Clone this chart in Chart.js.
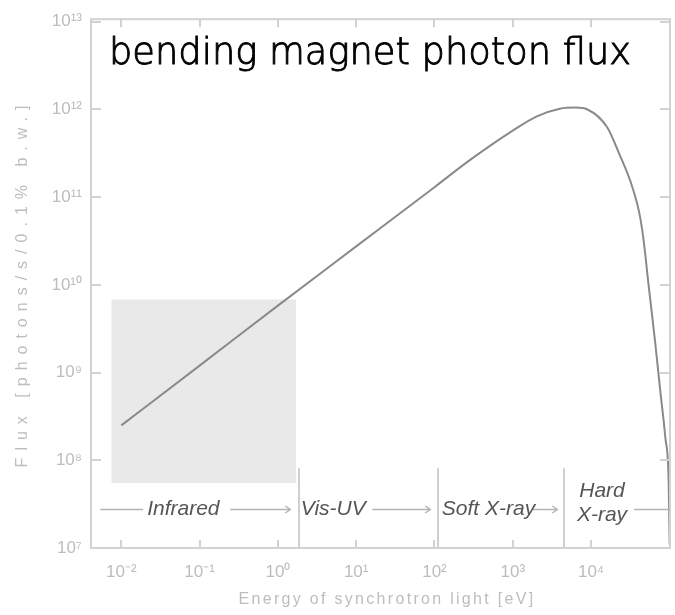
<!DOCTYPE html>
<html><head><meta charset="utf-8">
<script src="https://cdn.jsdelivr.net/npm/chart.js@4"></script>
<style>html,body{margin:0;padding:0;background:#fff}#wrap{width:675px;height:615px;position:relative}</style>
</head><body><div id="wrap"><canvas id="c" width="675" height="615" style="width:675px;height:615px"></canvas></div>
<script>
// ---- data ----
const energyEV = [0.01, 0.1, 1, 10, 100, 300, 1000, 2000, 4000, 6300, 9000, 16000, 23000, 32000, 39000, 42700, 47000, 54000, 66000, 76000, 89000, 98000, 101000];
const flux     = [2.5e8, 1.2e9, 5.8e9, 2.75e10, 1.3e11, 2.75e11, 5.75e11, 8.3e11, 1.02e12, 1.05e12, 1.0e12, 6.3e11, 3.1e11, 1.5e11, 8.3e10, 5.7e10, 3.2e10, 1.05e10, 2.2e9, 6.6e8, 1.8e8, 5.9e7, 1.1e7];
const xTickExponents = [-2, -1, 0, 1, 2, 3, 4];
const yTickExponents = [7, 8, 9, 10, 11, 12, 13];
const xRange = [4.1e-3, 1.02e5];
const yRange = [1e7, 1.07e13];
const boxEnergy = [7.45e-3, 1.72];
const boxFlux = [5.5e7, 6.8e9];
const separatorEnergy = [1.88, 112, 4570];
const separatorTopFlux = 8.1e7;
const regionLabels = ['Infrared', 'Vis-UV', 'Soft X-ray', 'Hard\nX-ray'];
const regionLabelEnergy = [0.062, 5.1, 490, 1.38e4];
const arrowFlux = 2.75e7;
const arrowStart = [5.4e-3, 0.246, 16.1, 1780, 3.55e4];
const arrowEnd   = [0.019, 1.44, 88.3, 3700, 1.02e5];
const arrowHead  = [false, true, true, true, false];
const chartTitle = 'bending magnet photon flux';
const xTitle = 'Energy of synchrotron light [eV]';
const yTitle = 'Flux [photons/s/0.1% b.w.]';

const SUP = {'-':'\u207B','0':'\u2070','1':'\u00B9','2':'\u00B2','3':'\u00B3','4':'\u2074','5':'\u2075','6':'\u2076','7':'\u2077','8':'\u2078','9':'\u2079'};
function powLabel(v){ const e = Math.round(Math.log10(v)); return '10' + String(e).split('').map(c=>SUP[c]).join(''); }

const TICK_GRAY = '#bdbdbd';
const FRAME_GRAY = '#d2d2d2';

const decor = {
  id: 'decor',
  afterDraw(chart){
    const {ctx, chartArea:a, scales:{x, y}} = chart;
    ctx.save();
    ctx.strokeStyle = FRAME_GRAY; ctx.lineWidth = 2;
    ctx.strokeRect(a.left, a.top, a.right - a.left, a.bottom - a.top);
    ctx.beginPath();
    xTickExponents.forEach(e => { const px = Math.round(x.getPixelForValue(Math.pow(10,e)));
      ctx.moveTo(px, a.bottom); ctx.lineTo(px, a.bottom - 8);
      ctx.moveTo(px, a.top); ctx.lineTo(px, a.top + 8); });
    yTickExponents.forEach(e => { const py = Math.round(y.getPixelForValue(Math.pow(10,e)));
      ctx.moveTo(a.left, py); ctx.lineTo(a.left + 10, py);
      ctx.moveTo(a.right, py); ctx.lineTo(a.right - 10, py); });
    ctx.stroke();
    ctx.strokeStyle = '#cfcfcf'; ctx.lineWidth = 2;
    ctx.beginPath();
    separatorEnergy.forEach(E => { const px = Math.round(x.getPixelForValue(E));
      ctx.moveTo(px, a.bottom); ctx.lineTo(px, y.getPixelForValue(separatorTopFlux)); });
    ctx.stroke();
    const ay = Math.round(y.getPixelForValue(arrowFlux)) + 0.5;
    ctx.strokeStyle = '#b4b4b4'; ctx.lineWidth = 1.5;
    arrowStart.forEach((s, i) => {
      const x0 = x.getPixelForValue(s), x1 = Math.min(x.getPixelForValue(arrowEnd[i]), a.right);
      ctx.beginPath(); ctx.moveTo(x0, ay); ctx.lineTo(x1, ay); ctx.stroke();
      if (arrowHead[i]) { ctx.beginPath(); ctx.moveTo(x1 - 5, ay - 3.5); ctx.lineTo(x1, ay); ctx.lineTo(x1 - 5, ay + 3.5); ctx.stroke(); }
    });
    ctx.fillStyle = '#555'; ctx.font = 'italic 21px "Liberation Sans Narrow", "Liberation Sans", sans-serif';
    ctx.textAlign = 'center'; ctx.textBaseline = 'middle';
    regionLabels.forEach((t, i) => {
      const px = x.getPixelForValue(regionLabelEnergy[i]);
      const lines = t.split('\n');
      if (lines.length === 1) ctx.fillText(t, px, ay);
      else { ctx.fillText(lines[0], px, ay - 18); ctx.fillText(lines[1], px, ay + 6); }
    });
    ctx.fillStyle = '#000'; ctx.strokeStyle = '#000'; ctx.lineWidth = 0.9;
    ctx.textAlign = 'left'; ctx.textBaseline = 'alphabetic';
    const tf = '"DejaVu Sans", sans-serif';
    ctx.font = '200 36px ' + tf;
    const w = ctx.measureText(chartTitle).width;
    const fs = 36 * 522 / w;
    ctx.font = '200 ' + fs.toFixed(1) + 'px ' + tf;
    ctx.fillText(chartTitle, a.left + 18, a.top + 45);
    ctx.strokeText(chartTitle, a.left + 18, a.top + 45);
    ctx.fillStyle = TICK_GRAY;
    ctx.font = '16px "Liberation Sans", sans-serif';
    ctx.letterSpacing = '2.3px';
    ctx.textAlign = 'center'; ctx.textBaseline = 'middle';
    ctx.fillText(xTitle, 387, 600);
    ctx.save();
    ctx.translate(23, 283); ctx.rotate(-Math.PI / 2);
    ctx.letterSpacing = '7px';
    ctx.fillText(yTitle, 0, 0);
    ctx.restore();
    ctx.restore();
  }
};

new Chart(document.getElementById('c'), {
  type: 'line',
  data: {
    datasets: [
      { label: 'flux', data: energyEV.map((e, i) => ({x: e, y: flux[i]})),
        borderColor: '#8a8a8a', borderWidth: 2, pointRadius: 0, cubicInterpolationMode: 'monotone', fill: false, order: 1 },
      { label: 'box', data: [{x: boxEnergy[0], y: boxFlux[1]}, {x: boxEnergy[1], y: boxFlux[1]}],
        borderWidth: 0, borderColor: 'rgba(0,0,0,0)', backgroundColor: '#e9e9e9', pointRadius: 0,
        fill: {value: boxFlux[0]}, order: 2 }
    ]
  },
  options: {
    responsive: false, animation: false, devicePixelRatio: 1,
    layout: {padding: {top: 15, right: 5, left: 0, bottom: 0}},
    plugins: {legend: {display: false}, tooltip: {enabled: false}, title: {display: false}},
    scales: {
      x: { type: 'logarithmic', min: xRange[0], max: xRange[1],
        grid: {display: false, drawTicks: false}, border: {display: false},
        ticks: {color: TICK_GRAY, font: {size: 17, family: '"Liberation Sans Narrow", "Liberation Sans", sans-serif'}, padding: 14, maxRotation: 0, autoSkip: false, callback: v => powLabel(v)},
        afterBuildTicks: s => { s.ticks = xTickExponents.map(e => ({value: Math.pow(10, e)})); },
        afterFit: s => { s.height = 67; } },
      y: { type: 'logarithmic', min: yRange[0], max: yRange[1],
        grid: {display: false, drawTicks: false}, border: {display: false},
        ticks: {color: TICK_GRAY, font: {size: 17, family: '"Liberation Sans Narrow", "Liberation Sans", sans-serif'}, padding: 9, autoSkip: false, callback: v => powLabel(v)},
        afterBuildTicks: s => { s.ticks = yTickExponents.map(e => ({value: Math.pow(10, e)})); },
        afterFit: s => { s.width = 91; } }
    }
  },
  plugins: [decor]
});
</script></body></html>
